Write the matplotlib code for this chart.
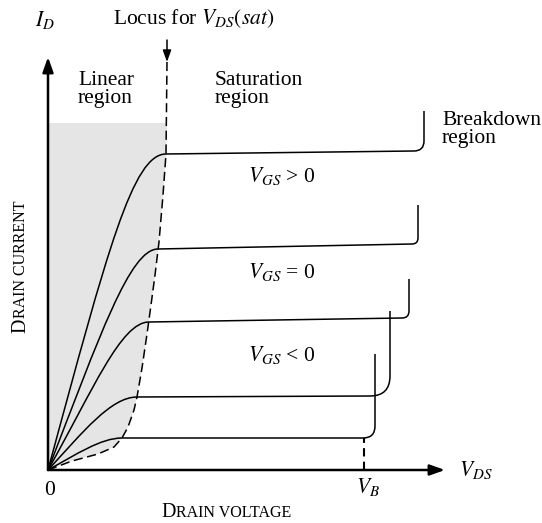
import numpy as np
import matplotlib.pyplot as plt
from matplotlib.path import Path
from matplotlib.patches import PathPatch

plt.rcParams['font.family'] = 'Liberation Serif'
plt.rcParams['mathtext.fontset'] = 'stix'

# output curves (top to bottom)
knee_v = [11.8, 11.0, 10.1, 8.9, 7.4]
sat_i = [31.6, 22.1, 14.8, 7.3, 3.2]
end_i = [31.9, 22.6, 15.2, 7.4, 3.2]
breakdown_v = [37.6, 37.0, 36.1, 34.2, 32.7]
breakdown_top = [35.9, 26.5, 19.1, 15.9, 11.6]
corner = [1.0, 0.6, 0.7, 2.0, 1.2]
# bezier handles for the rising part
ctrl1_v = [6.0, 5.2, 4.5, 3.5, 2.8]
ctrl1_i = [22.2, 13.5, 8.0, 3.8, 1.55]
ctrl2_v = [8.5, 8.2, 7.3, 6.3, 5.3]

# locus of V_DS(sat)
locus_v = [0, 2.4, 5.0, 6.6, 7.4, 8.0, 8.6, 8.9, 9.4, 9.9, 10.3, 10.7, 11.1, 11.5, 11.8, 11.9]
locus_i = [0, 0.9, 1.6, 2.3, 3.2, 4.3, 6.0, 7.3, 10.2, 13.6, 16.5, 19.5, 22.8, 27.5, 31.6, 40.8]
locus_arrow_from = 43.0
shade_top = 34.7

v_b = 31.6
x_end = 39.7
y_end = 41.3

fig = plt.figure(figsize=(5.42, 5.23), dpi=100)
ax = fig.add_axes([0, 0, 1, 1])
ax.set_xlim(-4.8, 49.4)
ax.set_ylim(-5.3, 47.0)
ax.axis('off')

# shaded linear region
sx = np.r_[locus_v[:-1], locus_v[-1], 0]
sy = np.r_[locus_i[:-1], shade_top, shade_top]
ax.fill(sx, sy, color='#e5e5e5', lw=0, zorder=0)

# characteristic curves
for i in range(len(knee_v)):
    r = corner[i]
    verts = [(0, 0), (ctrl1_v[i], ctrl1_i[i]), (ctrl2_v[i], sat_i[i]), (knee_v[i], sat_i[i]),
             (breakdown_v[i] - r, end_i[i]), (breakdown_v[i], end_i[i]),
             (breakdown_v[i], end_i[i] + r), (breakdown_v[i], breakdown_top[i])]
    codes = [Path.MOVETO, Path.CURVE4, Path.CURVE4, Path.CURVE4,
             Path.LINETO, Path.CURVE3, Path.CURVE3, Path.LINETO]
    ax.add_patch(PathPatch(Path(verts, codes), fill=False, ec='k', lw=1.1, zorder=2))

# locus (dashed) with arrow
ax.plot(locus_v, locus_i, color='k', lw=1.1, ls=(0, (6, 3)), zorder=3)
ax.annotate('', xy=(locus_v[-1], locus_i[-1]), xytext=(locus_v[-1], locus_arrow_from),
            arrowprops=dict(arrowstyle='-|>,head_length=0.5,head_width=0.18', lw=1.1,
                            color='k', shrinkA=0, shrinkB=0, mutation_scale=14))

# V_B marker
ax.plot([v_b, v_b], [0, sat_i[-1]], color='k', lw=1.5, ls=(0, (4, 2.5)), zorder=3)

# axes arrows
for xy in [(x_end, 0), (0, y_end)]:
    ax.annotate('', xy=xy, xytext=(0, 0),
                arrowprops=dict(arrowstyle='-|>,head_length=0.45,head_width=0.16', lw=1.8,
                                color='k', shrinkA=0, shrinkB=0, mutation_scale=20), zorder=4)

fs = 15.5
ax.text(-0.3, 45.0, r'$I_D$', fontsize=fs, ha='center', va='center')
ax.text(6.5, 44.6, r'Locus for $V_{DS}(sat)$', fontsize=fs, ha='left', va='baseline')
ax.text(3.0, 36.7, 'Linear\nregion', fontsize=fs, ha='left', va='baseline', linespacing=0.95)
ax.text(16.7, 36.7, 'Saturation\nregion', fontsize=fs, ha='left', va='baseline', linespacing=0.95)
ax.text(39.4, 32.7, 'Breakdown\nregion', fontsize=fs, ha='left', va='baseline', linespacing=0.95)
ax.text(23.4, 28.8, r'$V_{GS}$ > 0', fontsize=fs, ha='center', va='baseline')
ax.text(23.4, 19.2, r'$V_{GS}$ = 0', fontsize=fs, ha='center', va='baseline')
ax.text(23.4, 10.9, r'$V_{GS}$ < 0', fontsize=fs, ha='center', va='baseline')
ax.text(0.2, -2.5, '0', fontsize=fs, ha='center', va='baseline')
ax.text(32.0, -2.3, r'$V_B$', fontsize=fs, ha='center', va='baseline')
ax.text(41.1, -0.6, r'$V_{DS}$', fontsize=fs, ha='left', va='baseline')

# small caps axis titles
big, small = 14.5, 11.5
ax.text(11.3, -4.7, 'D', fontsize=big, ha='left', va='baseline')
ax.annotate('RAIN VOLTAGE', xy=(11.3, -4.7), xytext=(0.722 * big, 0), textcoords='offset points',
            fontsize=small, ha='left', va='baseline')
ax.text(-2.3, 13.7, 'D', fontsize=big, ha='left', va='baseline', rotation=90, rotation_mode='anchor')
ax.annotate('RAIN CURRENT', xy=(-2.3, 13.7), xytext=(0, 0.722 * big), textcoords='offset points',
            fontsize=small, ha='left', va='baseline', rotation=90, rotation_mode='anchor')

fig.savefig('out.png', dpi=100)
